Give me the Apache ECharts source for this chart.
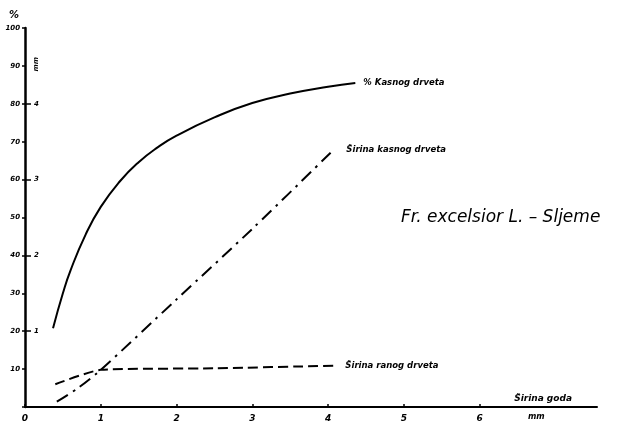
<!DOCTYPE html>
<html>
<head>
<meta charset="utf-8">
<script src="https://cdn.jsdelivr.net/npm/echarts@6/dist/echarts.min.js"></script>
<style>
html,body{margin:0;padding:0;background:#fff;}
#chart{width:620px;height:425px;}
</style>
</head>
<body>
<div id="chart"></div>
<script>
// ---- data ----
const xTickValues = [0, 1, 2, 3, 4, 5, 6];          // Širina goda (mm)
const pctTickValues = [10, 20, 30, 40, 50, 60, 70, 80, 90, 100];
const mmTickValues = [1, 2, 3, 4];

// % Kasnog drveta (left axis, %)
const lateWoodPctX = [0.37, 0.5, 0.6, 0.8, 1.0, 1.25, 1.5, 1.75, 2.0, 2.5, 3.0, 3.5, 4.0, 4.36];
const lateWoodPct  = [20.8, 30, 36, 45.5, 52.8, 59.5, 64.6, 68.5, 71.6, 76.4, 80.2, 82.7, 84.5, 85.5];

// Širina kasnog drveta (right scale, mm)
const lateWidthX = [0.42, 0.7, 1.0, 2.0, 3.0, 4.07];
const lateWidth  = [0.07, 0.25, 0.49, 1.42, 2.35, 3.39];

// Širina ranog drveta (right scale, mm)
const earlyWidthX = [0.4, 1.0, 2.5, 4.07];
const earlyWidth  = [0.30, 0.49, 0.51, 0.545];

const names = {
  latePct: '% Kasnog drveta',
  lateWidth: 'Širina kasnog drveta',
  earlyWidth: 'Širina ranog drveta'
};

const zip = (xs, ys) => xs.map((x, i) => [x, ys[i]]);

const FONT = 'DejaVu Sans';
const lblStyle = { fontFamily: FONT, fontStyle: 'italic', fontWeight: 'bold', color: '#000' };

const chart = echarts.init(document.getElementById('chart'), null, { renderer: 'canvas' });

chart.setOption({
  animation: false,
  backgroundColor: '#fff',
  title: {
    text: 'Fr. excelsior L. – Sljeme',
    left: 396, top: 204,
    textStyle: { fontFamily: FONT, fontStyle: 'italic', fontWeight: 'normal', fontSize: 17, color: '#000' }
  },
  grid: { left: 25, right: 23, top: 28, bottom: 18, containLabel: false },
  xAxis: {
    type: 'value', min: 0, max: 7.55,
    interval: 1,
    name: 'Širina goda',
    nameLocation: 'end',
    nameGap: -25,
    nameTextStyle: Object.assign({}, lblStyle, { fontSize: 9, align: 'right', verticalAlign: 'bottom', padding: [0, 0, 4, 0] }),
    axisLine: { show: true, lineStyle: { color: '#000', width: 2 } },
    axisTick: { show: true, inside: true, length: 3, customValues: xTickValues, lineStyle: { color: '#000', width: 1.5 } },
    axisLabel: Object.assign({}, lblStyle, { fontSize: 9, margin: 7, customValues: xTickValues }),
    splitLine: { show: false }
  },
  yAxis: [
    {
      type: 'value', min: 0, max: 100, interval: 10,
      position: 'left',
      name: '%',
      nameLocation: 'end',
      nameGap: 8,
      nameTextStyle: Object.assign({}, lblStyle, { fontSize: 10, align: 'right', padding: [0, 6, 0, 0] }),
      axisLine: { show: true, lineStyle: { color: '#000', width: 2.5 } },
      axisTick: { show: true, length: 3, lineStyle: { color: '#000', width: 1.5 } },
      axisLabel: Object.assign({}, lblStyle, {
        fontSize: 7, margin: 5,
        formatter: v => (pctTickValues.indexOf(v) >= 0 ? String(v) : '')
      }),
      splitLine: { show: false }
    },
    {
      type: 'value', min: 0, max: 5, interval: 1,
      position: 'left',
      axisLine: { show: false },
      axisTick: { show: true, inside: true, length: 6, customValues: mmTickValues, lineStyle: { color: '#000', width: 1.5 } },
      axisLabel: Object.assign({}, lblStyle, {
        fontSize: 7, inside: true, margin: 9, customValues: mmTickValues
      }),
      splitLine: { show: false }
    }
  ],
  graphic: [
    {
      type: 'text', left: 33, top: 57, rotation: Math.PI / 2,
      style: { text: 'mm', fontFamily: FONT, fontStyle: 'italic', fontWeight: 'bold', fontSize: 7, fill: '#000' }
    },
    {
      type: 'text', left: 528, top: 413,
      style: { text: 'mm', fontFamily: FONT, fontStyle: 'italic', fontWeight: 'bold', fontSize: 8, fill: '#000' }
    }
  ],
  series: [
    {
      name: names.latePct,
      type: 'line',
      yAxisIndex: 0,
      data: zip(lateWoodPctX, lateWoodPct),
      smooth: 0.5,
      showSymbol: false,
      lineStyle: { color: '#000', width: 2 },
      endLabel: { show: true, formatter: names.latePct, distance: 8, fontFamily: FONT, fontStyle: 'italic', fontWeight: 'bold', fontSize: 8.5, color: '#000' }
    },
    {
      name: names.lateWidth,
      type: 'line',
      yAxisIndex: 1,
      data: zip(lateWidthX, lateWidth),
      smooth: 0.3,
      showSymbol: false,
      lineStyle: { color: '#000', width: 2, type: [13, 6, 2.5, 6] },
      endLabel: { show: true, formatter: names.lateWidth, distance: 13, fontFamily: FONT, fontStyle: 'italic', fontWeight: 'bold', fontSize: 8.5, color: '#000' }
    },
    {
      name: names.earlyWidth,
      type: 'line',
      yAxisIndex: 1,
      data: zip(earlyWidthX, earlyWidth),
      smooth: 0.2,
      showSymbol: false,
      lineStyle: { color: '#000', width: 2, type: [10, 5] },
      endLabel: { show: true, formatter: names.earlyWidth, distance: 12, fontFamily: FONT, fontStyle: 'italic', fontWeight: 'bold', fontSize: 8.5, color: '#000' }
    }
  ]
});
</script>
</body>
</html>
